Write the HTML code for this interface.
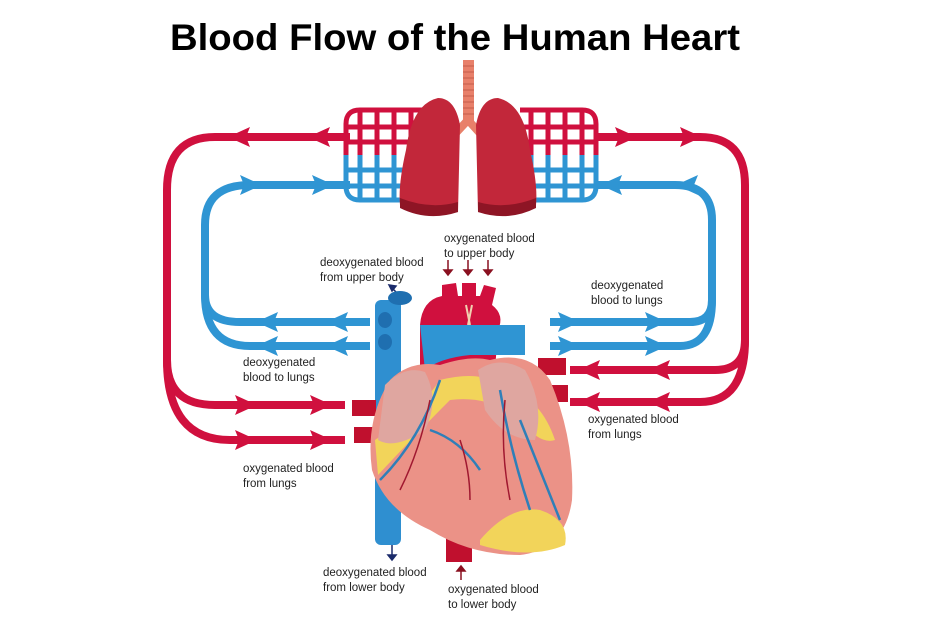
<!DOCTYPE html>
<html><head><meta charset="utf-8"><style>
html,body{margin:0;padding:0;background:#fff}
svg{display:block}
.t{font-family:"Liberation Sans",sans-serif;font-size:11.5px;fill:#222}
</style></head><body>
<svg width="945" height="630" viewBox="0 0 945 630" xmlns="http://www.w3.org/2000/svg">
<text x="170" y="50" font-family="Liberation Sans,sans-serif" font-weight="bold" font-size="37" fill="#000" textLength="570" lengthAdjust="spacingAndGlyphs">Blood  Flow  of the Human Heart</text>
<defs>
<path id="al" d="M-12,0 L10,-10 L6,0 L10,10 Z"/>
<path id="ar" d="M12,0 L-10,-10 L-6,0 L-10,10 Z"/>
</defs>
<g fill="none" stroke-width="8" stroke-linecap="butt">
<path d="M350,137 H215 Q167,137 167,190 V360 Q167,405 215,405 H345" stroke="#d0103e"/>
<path d="M167,360 Q167,440 230,440 H345" stroke="#d0103e"/>
<path d="M350,185 H250 Q205,185 205,225 V295 Q205,322 240,322 H370" stroke="#2f95d3"/>
<path d="M205,295 Q205,346 250,346 H370" stroke="#2f95d3"/>
<path d="M595,137 H700 Q745,137 745,185 V340 Q745,370 715,370 H570" stroke="#d0103e"/>
<path d="M745,340 Q745,402 700,402 H570" stroke="#d0103e"/>
<path d="M595,185 H675 Q712,185 712,220 V300 Q712,322 690,322 H550" stroke="#2f95d3"/>
<path d="M712,300 Q712,346 680,346 H550" stroke="#2f95d3"/>
</g>
<g fill="#d0103e">
<use href="#al" x="240" y="137"/><use href="#al" x="320" y="137"/>
<use href="#ar" x="625" y="137"/><use href="#ar" x="690" y="137"/>
<use href="#ar" x="245" y="405"/><use href="#ar" x="320" y="405"/>
<use href="#ar" x="245" y="440"/><use href="#ar" x="320" y="440"/>
<use href="#al" x="590" y="370"/><use href="#al" x="660" y="370"/>
<use href="#al" x="590" y="402"/><use href="#al" x="660" y="402"/>
</g>
<g fill="#2f95d3">
<use href="#ar" x="250" y="185"/><use href="#ar" x="322" y="185"/>
<use href="#al" x="612" y="185"/><use href="#al" x="688" y="185"/>
<use href="#al" x="268" y="322"/><use href="#al" x="338" y="322"/>
<use href="#al" x="268" y="346"/><use href="#al" x="338" y="346"/>
<use href="#ar" x="568" y="322"/><use href="#ar" x="655" y="322"/>
<use href="#ar" x="568" y="346"/><use href="#ar" x="655" y="346"/>
</g>
<g fill="none" stroke-width="5">
<g stroke="#d0103e">
<path d="M425,110 H360 Q346,110 346,124 V155 M346,127 H425 M346,142 H425 M360,110 V155 M377,110 V155 M394,110 V155 M411,110 V155"/>
<path d="M520,110 H582 Q596,110 596,124 V155 M520,127 H596 M520,142 H596 M531,110 V155 M548,110 V155 M565,110 V155 M582,110 V155"/>
</g>
<g stroke="#2f95d3">
<path d="M346,155 V186 Q346,200 360,200 H425 M346,170 H425 M346,186 H425 M360,155 V200 M377,155 V200 M394,155 V200 M411,155 V200"/>
<path d="M596,155 V186 Q596,200 582,200 H520 M520,170 H596 M520,186 H596 M531,155 V200 M548,155 V200 M565,155 V200 M582,155 V200"/>
</g>
</g>
<rect x="463" y="60" width="11" height="62" fill="#e8806a"/>
<g stroke="#c55c4a" stroke-width="1">
<path d="M463,66H474M463,72H474M463,78H474M463,84H474M463,90H474M463,96H474M463,102H474M463,108H474M463,114H474"/>
</g>
<path d="M468,120 L440,150 M468,120 L495,150" stroke="#e8806a" stroke-width="8"/>
<path d="M438,98 Q412,104 406,150 Q398,185 400,205 Q425,220 458,212 L460,125 Q455,98 438,98 Z" fill="#c2273a"/>
<path d="M498,98 Q524,104 530,150 Q538,185 536,205 Q511,220 478,212 L476,125 Q481,98 498,98 Z" fill="#c2273a"/>
<path d="M400,198 Q430,210 458,202 L458,212 Q428,222 400,208Z M536,198 Q506,210 478,202 L478,212 Q508,222 536,208Z" fill="#8e1525"/>
<text class="t" x="444" y="242">oxygenated blood</text>
<text class="t" x="444" y="257">to upper body</text>
<text class="t" x="320" y="266">deoxygenated blood</text>
<text class="t" x="320" y="281">from upper body</text>
<text class="t" x="591" y="289">deoxygenated</text>
<text class="t" x="591" y="304">blood to lungs</text>
<text class="t" x="243" y="366">deoxygenated</text>
<text class="t" x="243" y="381">blood to lungs</text>
<text class="t" x="588" y="423">oxygenated blood</text>
<text class="t" x="588" y="438">from lungs</text>
<text class="t" x="243" y="472">oxygenated blood</text>
<text class="t" x="243" y="487">from lungs</text>
<text class="t" x="323" y="576">deoxygenated blood</text>
<text class="t" x="323" y="591">from lower body</text>
<text class="t" x="448" y="593">oxygenated blood</text>
<text class="t" x="448" y="608">to lower body</text>
<g stroke="#8a1020" stroke-width="1.5" fill="#8a1020">
<path d="M448,260V272M468,260V272M488,260V272" /><path d="M444,270l4,5l4,-5zM464,270l4,5l4,-5zM484,270l4,5l4,-5z"/>
<path d="M461,580V570"/><path d="M457,571l4,-5l4,5z"/>
</g>
<g stroke="#1a2a6a" stroke-width="1.5" fill="#1a2a6a">
<path d="M400,296L392,288"/><path d="M389,285l7,1l-4,5z"/>
<path d="M392,545V556"/><path d="M388,555l4,5l4,-5z"/>
</g>
<rect x="375" y="300" width="26" height="245" rx="6" fill="#2f8fd0"/>
<ellipse cx="385" cy="342" rx="7" ry="8" fill="#1f6fb0"/>
<ellipse cx="385" cy="320" rx="7" ry="8" fill="#1f6fb0"/>
<ellipse cx="400" cy="298" rx="12" ry="7" fill="#1f6fb0"/>
<path d="M420,380 V325 Q422,300 442,296 L442,285 L456,283 L458,296 L462,296 L462,283 L476,283 L476,296 L480,296 L484,285 L496,288 L492,305 Q505,315 498,330 L495,370 Z" fill="#d0103e"/>
<path d="M466,305 L470,325 M472,305 L468,325" stroke="#f0d0b0" stroke-width="2"/>
<path d="M420,325 H525 V355 H470 Q440,358 425,370 Z" fill="#2f95d3"/>
<rect x="538" y="358" width="28" height="17" fill="#c0102e"/>
<rect x="540" y="385" width="28" height="17" fill="#c0102e"/>
<rect x="352" y="400" width="24" height="16" fill="#c0102e"/>
<rect x="354" y="427" width="24" height="16" fill="#c0102e"/>
<rect x="446" y="530" width="26" height="32" fill="#c0102e"/>
<path d="M390,380 Q410,360 440,365 Q470,355 490,360 Q530,350 550,380 Q575,440 572,500 Q565,550 520,555 Q470,555 430,530 Q385,510 372,470 Q365,420 390,380 Z" fill="#eb9287"/>
<path d="M375,440 Q420,410 440,380 Q480,370 500,385 Q540,395 555,440 Q540,445 520,420 Q490,395 450,400 Q420,430 378,475 Z" fill="#f2d45a"/>
<path d="M480,540 Q510,505 540,510 Q570,520 565,545 Q530,560 480,545 Z" fill="#f2d45a"/>
<path d="M385,385 Q405,365 425,372 Q440,400 425,430 Q395,450 378,440 Z" fill="#dfa6a0"/>
<path d="M478,370 Q500,355 525,370 Q545,405 535,440 Q505,440 485,410 Z" fill="#dfa6a0"/>
<g fill="none" stroke="#2f7fb8" stroke-width="2.5">
<path d="M440,380 Q420,440 380,480 M430,430 Q460,440 480,470 M500,390 Q510,450 530,510 M520,420 Q540,470 560,520"/>
</g>
<g fill="none" stroke="#a01830" stroke-width="1.5">
<path d="M430,400 Q420,450 400,490 M505,400 Q500,450 510,500 M460,440 Q470,470 470,500"/>
</g>
</svg>
</body></html>
